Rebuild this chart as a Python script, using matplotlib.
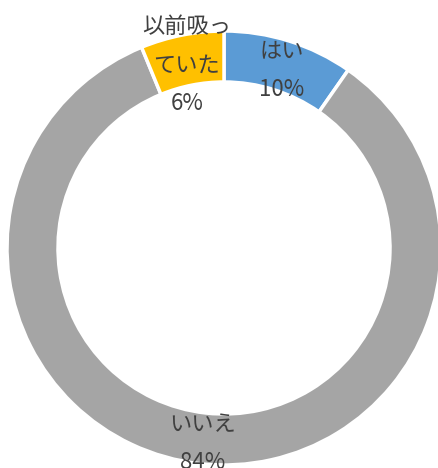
import numpy as np
import matplotlib.pyplot as plt

plt.rcParams['font.family'] = ['Noto Sans CJK JP', 'DejaVu Sans']

# 回答データ
labels = ['はい', 'いいえ', '以前吸っ\nていた']
values = [9.7, 84.1, 6.2]
pct_text = ['10%', '84%', '6%']
colors = ['#5B9BD5', '#A5A5A5', '#FFC000']

fig = plt.figure(figsize=(4.39, 4.68), dpi=100)
ax = fig.add_axes([0, 0, 1, 1])

R = 217
width = 51
cx, cy = 224, 468 - 248

wedges, _ = ax.pie(values, colors=colors, startangle=90, counterclock=False,
                   radius=R, center=(cx, cy),
                   wedgeprops=dict(width=width, edgecolor='white', linewidth=2.5))

for w, lab, p in zip(wedges, labels, pct_text):
    ang = np.deg2rad((w.theta1 + w.theta2) / 2)
    rm = R - width / 2
    x = cx + rm * np.cos(ang)
    y = cy + rm * np.sin(ang) - 5
    ax.text(x, y, lab + '\n' + p, ha='center', va='center', fontsize=16,
            color='#404040', linespacing=1.85)

ax.set_xlim(0, 439)
ax.set_ylim(0, 468)
ax.set_aspect('equal')
ax.axis('off')

plt.savefig('out.png', dpi=100)
